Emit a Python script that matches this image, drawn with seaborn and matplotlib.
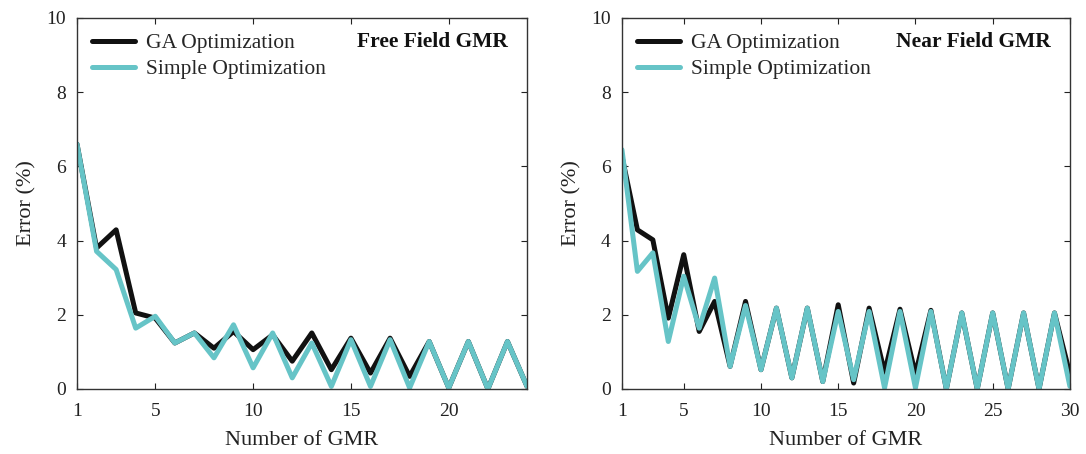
import matplotlib
matplotlib.use("Agg")
import matplotlib.pyplot as plt
import seaborn as sns
import numpy as np

# Free field GMR: error vs number of GMR sensors
free_n = list(range(1, 25))
free_ga = [6.6, 3.8, 4.29, 2.05, 1.91, 1.24, 1.51, 1.1, 1.55, 1.06, 1.46, 0.75,
           1.51, 0.52, 1.37, 0.43, 1.37, 0.34, 1.28, 0.03, 1.28, 0.0, 1.28, 0.07]
free_simple = [6.6, 3.71, 3.22, 1.64, 1.96, 1.24, 1.51, 0.84, 1.73, 0.57, 1.51, 0.3,
               1.24, 0.07, 1.33, 0.07, 1.33, 0.03, 1.28, 0.03, 1.28, 0.0, 1.28, 0.07]

# Near field GMR
near_n = list(range(1, 31))
near_ga = [6.27, 4.29, 4.02, 1.91, 3.62, 1.55, 2.36, 0.61, 2.36, 0.52, 2.18, 0.3,
           2.18, 0.2, 2.27, 0.16, 2.18, 0.45, 2.15, 0.4, 2.12, 0.0, 2.05, 0.0,
           2.05, 0.0, 2.05, 0.0, 2.05, 0.4]
near_simple = [6.45, 3.17, 3.67, 1.28, 3.04, 1.64, 2.99, 0.61, 2.25, 0.52, 2.18, 0.3,
               2.18, 0.2, 2.09, 0.25, 2.09, 0.03, 2.09, 0.03, 2.09, 0.0, 2.05, 0.0,
               2.05, 0.0, 2.05, 0.0, 2.05, 0.07]

free_xticks = [1, 5, 10, 15, 20]
near_xticks = [1, 5, 10, 15, 20, 25, 30]
yticks = [0, 2, 4, 6, 8, 10]

series_names = ["GA Optimization", "Simple Optimization"]
panel_titles = ["Free Field GMR", "Near Field GMR"]

sns.set_style("ticks")
plt.rcParams["font.family"] = ["Liberation Serif", "DejaVu Serif"]

BLACK = "#111111"
CYAN = "#66C4C7"
LW = 3.6

fig = plt.figure(figsize=(10.86, 4.54), dpi=100)
ax1 = fig.add_axes([0.0709, 0.1432, 0.4144, 0.8172])
ax2 = fig.add_axes([0.5727, 0.1432, 0.4125, 0.8172])

panels = [
    (ax1, free_n, free_ga, free_simple, free_xticks, panel_titles[0]),
    (ax2, near_n, near_ga, near_simple, near_xticks, panel_titles[1]),
]

for ax, n, ga, simple, xt, title in panels:
    sns.lineplot(x=n, y=ga, ax=ax, color=BLACK, lw=LW, label=series_names[0])
    sns.lineplot(x=n, y=simple, ax=ax, color=CYAN, lw=LW, label=series_names[1])
    ax.set_xlim(n[0], n[-1])
    ax.set_ylim(0, 10)
    ax.set_xticks(xt)
    ax.set_yticks(yticks)
    ax.tick_params(direction="in", length=4, width=0.8, top=True, right=True,
                   labelsize=14, colors="#222222")
    ax.tick_params(axis="x", pad=10)
    ax.tick_params(axis="y", pad=8)
    for s in ax.spines.values():
        s.set_linewidth(1.0)
        s.set_color("#333333")
        s.set_visible(True)
    ax.set_xlabel("Number of GMR", fontsize=16, color="#222222", labelpad=8)
    ax.set_ylabel("Error (%)", fontsize=16, color="#222222", labelpad=7)
    ax.legend(loc="upper left", frameon=False, fontsize=15.5, handlelength=2.0,
              handletextpad=0.5, labelspacing=0.28, borderaxespad=0.3,
              bbox_to_anchor=(0.0, 1.0))
    ax.text(0.957, 0.935, title, transform=ax.transAxes, ha="right", va="center",
            fontsize=15.5, fontweight="bold", color="#111111")

fig.savefig("out.png", dpi=100)
